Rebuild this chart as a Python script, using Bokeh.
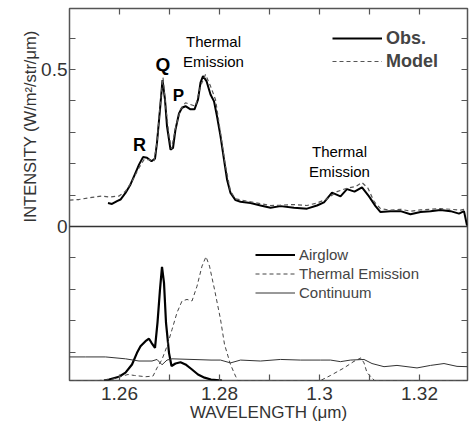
from bokeh.plotting import figure
from bokeh.models import (Range1d, LinearAxis, FixedTicker, Span, Label, Legend,
                          LegendItem, Title)
from bokeh.embed import file_html
from bokeh.resources import INLINE

FONT = "Liberation Sans"

# ---------------- data ----------------
obs_wl = [1.2577, 1.2585, 1.2595, 1.2602, 1.2612, 1.2622, 1.2632, 1.2639, 1.2647, 1.2655,
          1.2664, 1.2671, 1.2675, 1.2681, 1.2686, 1.2691, 1.2695, 1.2702, 1.2707, 1.2712,
          1.2719, 1.2725, 1.2732, 1.2742, 1.2750, 1.2757, 1.2762, 1.2767, 1.2774, 1.2782,
          1.2789, 1.2795, 1.2802, 1.2809, 1.2815, 1.2822, 1.2832, 1.2842, 1.2862, 1.2882,
          1.2902, 1.2922, 1.2949, 1.2975, 1.2995, 1.3009, 1.3025, 1.3042, 1.3055, 1.3070,
          1.3085, 1.3099, 1.3112, 1.3122, 1.3142, 1.3162, 1.3182, 1.3202, 1.3222, 1.3242,
          1.3262, 1.3279, 1.3289, 1.3295]
obs_val = [0.075, 0.072, 0.081, 0.086, 0.107, 0.134, 0.171, 0.197, 0.221, 0.219,
           0.208, 0.216, 0.267, 0.373, 0.466, 0.404, 0.319, 0.245, 0.250, 0.309,
           0.360, 0.378, 0.383, 0.373, 0.373, 0.404, 0.458, 0.479, 0.463, 0.420,
           0.399, 0.351, 0.288, 0.213, 0.150, 0.107, 0.084, 0.079, 0.075, 0.067,
           0.060, 0.065, 0.060, 0.057, 0.067, 0.077, 0.108, 0.096, 0.119, 0.111,
           0.125, 0.096, 0.065, 0.046, 0.049, 0.049, 0.039, 0.046, 0.049, 0.053,
           0.049, 0.041, 0.049, 0.003]

model_wl = [1.2500, 1.2519, 1.2545, 1.2565, 1.2579, 1.2599, 1.2612, 1.2625, 1.2639, 1.2649,
            1.2659, 1.2669, 1.2675, 1.2681, 1.2687, 1.2692, 1.2699, 1.2704, 1.2712, 1.2722,
            1.2732, 1.2752, 1.2762, 1.2772, 1.2782, 1.2792, 1.2802, 1.2812, 1.2822, 1.2832,
            1.2855, 1.2882, 1.2902, 1.2922, 1.2949, 1.2975, 1.2995, 1.3015, 1.3035, 1.3055,
            1.3072, 1.3085, 1.3097, 1.3109, 1.3122, 1.3142, 1.3162, 1.3182, 1.3202, 1.3222,
            1.3242, 1.3262, 1.3282, 1.3296]
model_val = [0.084, 0.086, 0.093, 0.097, 0.094, 0.097, 0.112, 0.144, 0.187, 0.213,
             0.213, 0.208, 0.267, 0.383, 0.474, 0.390, 0.288, 0.247, 0.314, 0.373,
             0.394, 0.383, 0.447, 0.484, 0.447, 0.404, 0.298, 0.192, 0.112, 0.088,
             0.081, 0.073, 0.067, 0.068, 0.070, 0.067, 0.075, 0.088, 0.111, 0.122,
             0.127, 0.140, 0.122, 0.080, 0.057, 0.052, 0.055, 0.049, 0.053, 0.055,
             0.057, 0.055, 0.052, 0.057]

airglow_wl = [1.2569, 1.2579, 1.2599, 1.2612, 1.2625, 1.2635, 1.2642, 1.2652, 1.2659, 1.2664,
              1.2671, 1.2676, 1.2681, 1.2685, 1.2689, 1.2693, 1.2699, 1.2704, 1.2712, 1.2722,
              1.2732, 1.2745, 1.2757, 1.2770, 1.2783, 1.2805]
airglow_val = [0.0, 0.003, 0.012, 0.025, 0.051, 0.088, 0.109, 0.125, 0.133, 0.120,
               0.104, 0.184, 0.290, 0.362, 0.311, 0.184, 0.088, 0.046, 0.054, 0.058,
               0.051, 0.035, 0.019, 0.009, 0.003, 0.0]

thermal_wl = [1.2500, 1.2559, 1.2585, 1.2605, 1.2617, 1.2630, 1.2652, 1.2667, 1.2675, 1.2685,
              1.2695, 1.2705, 1.2715, 1.2725, 1.2735, 1.2745, 1.2755, 1.2765, 1.2773, 1.2780,
              1.2790, 1.2802, 1.2810, 1.2822, 1.2832, 1.2837, 1.3002, 1.3022, 1.3049, 1.3069,
              1.3083, 1.3089, 1.3095, 1.3110, 1.3296]
thermal_val = [0.0, 0.0, 0.004, 0.014, 0.019, 0.016, 0.012, 0.014, 0.040, 0.067,
               0.109, 0.162, 0.216, 0.253, 0.258, 0.253, 0.300, 0.364, 0.394, 0.364,
               0.290, 0.195, 0.115, 0.051, 0.014, 0.0, 0.0, 0.016, 0.040, 0.061,
               0.072, 0.056, 0.025, 0.0, 0.0]

continuum_wl = [1.2500, 1.2532, 1.2572, 1.2612, 1.2639, 1.2665, 1.2675, 1.2685, 1.2695, 1.2705,
                1.2745, 1.2783, 1.2802, 1.2822, 1.2842, 1.2882, 1.2922, 1.2962, 1.3002, 1.3022,
                1.3042, 1.3062, 1.3089, 1.3105, 1.3129, 1.3155, 1.3195, 1.3222, 1.3249, 1.3275,
                1.3296]
continuum_val = [0.075, 0.075, 0.075, 0.069, 0.062, 0.062, 0.067, 0.050, 0.065, 0.069,
                 0.067, 0.065, 0.065, 0.056, 0.065, 0.062, 0.067, 0.065, 0.065, 0.065,
                 0.060, 0.065, 0.067, 0.054, 0.044, 0.048, 0.040, 0.048, 0.054, 0.045,
                 0.044]

x_major = [1.26, 1.28, 1.30, 1.32]
x_minor = [1.27, 1.29, 1.31]
x_labels = {1.26: "1.26", 1.28: "1.28", 1.30: "1.3", 1.32: "1.32"}
y_major = [0.0, 0.5]
y_minor = [-0.4, -0.3, -0.2, -0.1, 0.1, 0.2, 0.3, 0.4, 0.6]
y_labels = {0.0: "0", 0.5: "0.5"}

# ---------------- figure ----------------
p = figure(width=469, height=424, output_backend="svg", toolbar_location=None,
           x_range=Range1d(1.25, 1.3296), y_range=Range1d(-0.49, 0.694),
           min_border_left=69, min_border_right=2, min_border_top=8, min_border_bottom=43)
p.extra_y_ranges = {"comp": Range1d(0.0, 1.184)}
p.grid.visible = False
p.outline_line_color = "#555555"
p.outline_line_width = 1.5
p.background_fill_color = "white"
p.border_fill_color = "white"

def style_axis(ax):
    ax.axis_line_color = None
    ax.major_tick_in = 6
    ax.major_tick_out = 0
    ax.minor_tick_in = 6
    ax.minor_tick_out = 0
    ax.major_tick_line_color = "#555555"
    ax.minor_tick_line_color = "#555555"
    ax.major_tick_line_width = 1.2
    ax.minor_tick_line_width = 1.2
    ax.major_label_text_font = FONT
    ax.major_label_text_color = "#333333"
    ax.major_label_text_font_size = "19px"

xb = p.xaxis[0]
xb.ticker = FixedTicker(ticks=x_major, minor_ticks=x_minor)
xb.major_label_overrides = x_labels
style_axis(xb)
xb.major_label_standoff = 6
xb.axis_label = "WAVELENGTH (\u03bcm)"
xb.axis_label_text_font = FONT
xb.axis_label_text_font_style = "normal"
xb.axis_label_text_font_size = "17px"
xb.axis_label_text_color = "#333333"
xb.axis_label_standoff = 0

yl = p.yaxis[0]
yl.ticker = FixedTicker(ticks=y_major, minor_ticks=y_minor)
yl.major_label_overrides = y_labels
style_axis(yl)
yl.major_label_standoff = 2

# top / right: tick marks only (all ticks given as minor ticks -> no labels)
xa = LinearAxis(ticker=FixedTicker(ticks=[], minor_ticks=x_major + x_minor))
style_axis(xa)
xa.major_label_standoff = 0
p.add_layout(xa, "above")
yr = LinearAxis(ticker=FixedTicker(ticks=[], minor_ticks=y_major + y_minor))
style_axis(yr)
yr.major_label_standoff = 0
p.add_layout(yr, "right")

# y axis title (placed over the upper panel)
p.add_layout(Title(text="INTENSITY (W/m\u00b2/str/\u03bcm)", align="right", offset=22,
                   text_font=FONT, text_font_size="16.5px", text_font_style="normal",
                   text_color="#333333", standoff=0), "left")

# ---------------- renderers ----------------
r_obs = p.line(obs_wl, obs_val, line_color="black", line_width=2.0)
r_mod = p.line(model_wl, model_val, line_color="#555555", line_width=1.2, line_dash="4 3")

r_air = p.line(airglow_wl, airglow_val, y_range_name="comp", line_color="black", line_width=2.2)
r_th = p.line(thermal_wl, thermal_val, y_range_name="comp", line_color="#444444",
              line_width=1.0, line_dash="4 3")
r_co = p.line(continuum_wl, continuum_val, y_range_name="comp", line_color="#333333",
              line_width=1.0)

p.add_layout(Span(location=0, dimension="width", line_color="#333333", line_width=1.5))

# ---------------- legends ----------------
leg1 = Legend(items=[LegendItem(label="Obs.", renderers=[r_obs]),
                     LegendItem(label="Model", renderers=[r_mod])],
              location=(263, 308), label_text_font=FONT, label_text_font_style="bold",
              label_text_font_size="18px", glyph_width=50, glyph_height=22, label_height=22,
              spacing=1, padding=0, margin=0, label_standoff=4, border_line_color=None,
              background_fill_alpha=0)
leg2 = Legend(items=[LegendItem(label="Airglow", renderers=[r_air]),
                     LegendItem(label="Thermal Emission", renderers=[r_th]),
                     LegendItem(label="Continuum", renderers=[r_co])],
              location=(186, 78), label_text_font=FONT, label_text_font_size="15px",
              glyph_width=40, glyph_height=19, label_height=19, spacing=0, padding=0,
              margin=0, label_standoff=4, border_line_color=None, background_fill_alpha=0)
p.add_layout(leg1, "center")
p.add_layout(leg2, "center")

# ---------------- annotations ----------------
def lab(x, y, text, size, bold=False, **kw):
    p.add_layout(Label(x=x, y=y, text=text, text_font=FONT, text_font_size=size,
                       text_font_style="bold" if bold else "normal", text_align="center",
                       text_baseline="middle", text_color="black", **kw))

lab(1.2640, 0.261, "R", "18px", True)
lab(1.2687, 0.516, "Q", "19px", True)
lab(1.2718, 0.417, "P", "17px", True)
lab(1.2788, 0.557, "Thermal\nEmission", "15px", text_line_height=1.15)
lab(1.3040, 0.207, "Thermal\nEmission", "15px", text_line_height=1.15)

open("out.html", "w").write(file_html(p, INLINE))
